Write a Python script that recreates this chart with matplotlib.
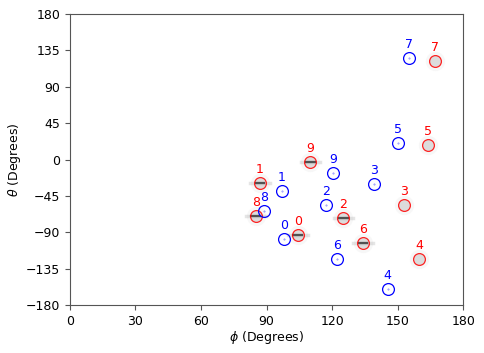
import numpy as np
import matplotlib
matplotlib.use("Agg")
import matplotlib.pyplot as plt

# point ids
ids = list(range(10))

# blue (reference) positions, degrees
phi_blue = [98.0, 97.1, 117.3, 139.3, 145.4, 150.4, 122.3, 155.3, 88.9, 120.3]
theta_blue = [-98.4, -39.0, -56.3, -30.3, -160.3, 20.8, -123.0, 125.6, -63.7, -16.7]

# red (predicted) positions, degrees
phi_red = [104.3, 87.0, 125.2, 153.0, 160.0, 164.1, 134.2, 167.2, 85.1, 110.1]
theta_red = [-93.4, -28.7, -72.8, -56.3, -123.5, 17.9, -103.3, 122.3, -69.6, -3.1]

# how strong the dark horizontal spread is around each red point (0 = faint)
spread = [1, 1, 1, 0, 0, 0, 1, 0, 1, 1]

fig = plt.figure(figsize=(4.85, 3.53), dpi=100)
ax = fig.add_axes([0.144, 0.136, 0.811, 0.824])

# faint gray halo around the red points
ax.plot(phi_red, theta_red, 'o', ms=14, color='gray', alpha=0.06, mec='none', zorder=1)
ax.plot(phi_red, theta_red, 'o', ms=8.5, color='gray', alpha=0.22, mec='none', zorder=1)
for x, y, s in zip(phi_red, theta_red, spread):
    if s:
        ax.plot([x - 4.5, x + 4.5], [y, y], color='gray', lw=2.5, alpha=0.2, zorder=2)
        ax.plot([x - 2.0, x + 2.0], [y, y], color='#333333', lw=1.6, alpha=0.8, zorder=2)

ax.plot(phi_red, theta_red, 'o', ms=8.5, mfc='none', mec='red', mew=0.9, alpha=0.85, zorder=3)
ax.plot(phi_blue, theta_blue, 'o', ms=8.5, mfc='none', mec='blue', mew=0.9, zorder=3)
ax.plot(phi_blue, theta_blue, '.', ms=0.8, color='blue', alpha=0.5, zorder=3)

for i in ids:
    ax.annotate(str(i), (phi_blue[i], theta_blue[i]), textcoords='offset points',
                xytext=(0, 5), ha='center', va='bottom', color='blue', fontsize=9)
    ax.annotate(str(i), (phi_red[i], theta_red[i]), textcoords='offset points',
                xytext=(0, 5), ha='center', va='bottom', color='red', fontsize=9)

ax.set_xlim(0, 180)
ax.set_ylim(-180, 180)
ax.set_xticks(np.arange(0, 181, 30))
ax.set_yticks(np.arange(-180, 181, 45))
ax.tick_params(labelsize=9, color='#555555')
for sp in ax.spines.values():
    sp.set_color('#555555')
ax.set_xlabel(r'$\phi$ (Degrees)', fontsize=9, labelpad=1)
ax.set_ylabel(r'$\theta$ (Degrees)', fontsize=9, labelpad=2)

fig.savefig('out.png', dpi=100)
